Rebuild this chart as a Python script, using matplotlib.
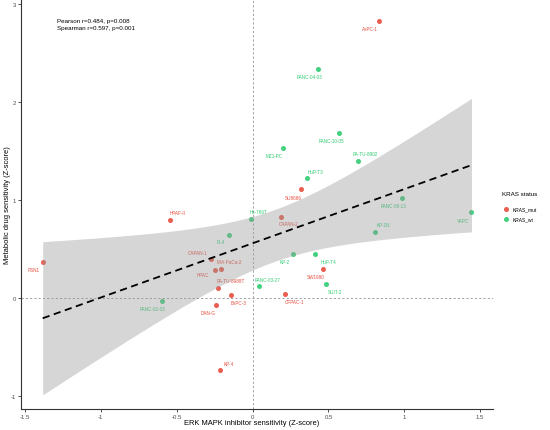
import numpy as np
import matplotlib
matplotlib.use("Agg")
import matplotlib.pyplot as plt

plt.rcParams['font.family'] = ['Liberation Sans', 'DejaVu Sans']

cell_lines = ["AsPC-1", "PANC-04-03", "PANC-10-05", "MZ1-PC", "PA-TU-8902", "HuP-T3",
              "SU8686", "PANC-08-13", "YAPC", "Hs-766T", "CAPAN-2", "HPAF-II", "KP-1N",
              "PL4", "KP-2", "HuP-T4", "PSN1", "SW1990", "CAPAN-1", "MIA-PaCa-2", "HPAC",
              "SUIT-2", "PANC-03-27", "PA-TU-8988T", "CFPAC-1", "BxPC-3", "PANC-02-03",
              "DAN-G", "KP-4"]
erk_z = [0.832, 0.430, 0.572, 0.201, 0.693, 0.361,
         0.320, 0.985, 1.443, -0.010, 0.188, -0.546, 0.810,
         -0.155, 0.267, 0.414, -1.383, 0.467, -0.271, -0.210, -0.245,
         0.485, 0.041, -0.225, 0.216, -0.144, -0.599,
         -0.239, -0.212]
metab_z = [2.83, 2.34, 1.68, 1.53, 1.40, 1.22,
           1.11, 1.02, 0.874, 0.81, 0.827, 0.80, 0.677,
           0.646, 0.449, 0.449, 0.367, 0.30, 0.395, 0.296, 0.289,
           0.143, 0.119, 0.105, 0.037, 0.034, -0.031,
           -0.071, -0.738]
kras = ["mut", "wt", "wt", "wt", "wt", "wt",
        "mut", "wt", "wt", "wt", "mut", "mut", "wt",
        "wt", "wt", "wt", "mut", "mut", "mut", "mut", "mut",
        "wt", "wt", "mut", "mut", "mut", "wt",
        "mut", "mut"]
stats_text = ["Pearson r=0.484, p=0.008", "Spearman r=0.597, p=0.001"]

# label offsets in pixels (dx, dy up-positive)
label_off = [(-9, -8), (-8, -8), (-8, -7), (-9, -8), (8, 7), (8, 7),
             (-8, -8), (-8, -8), (-8, -8), (8, 7), (8, -7), (8, 7), (8, 7),
             (-8, -7), (-8, -8), (13, -8), (-9, -8), (-8, -8), (-14, 7), (9, 7), (-13, -5),
             (9, -8), (9, 7), (12, 7), (9, -7), (8, -8), (-9, -8),
             (-8, -8), (8, 7)]

colors = {"mut": "#E74C3C", "wt": "#2ECC71"}

x = np.array(erk_z)
y = np.array(metab_z)

fig = plt.figure(figsize=(5.5, 4.31), dpi=100)
ax = fig.add_axes([21/550, 1-410/431, (493-21)/550, 410/431])

# zero reference lines
ax.axhline(0, color="#a0a0a0", lw=0.7, ls=(0, (2.2, 2.2)), zorder=1)
ax.axvline(0, color="#a0a0a0", lw=0.7, ls=(0, (2.2, 2.2)), zorder=1)

# points
for k in ["mut", "wt"]:
    m = np.array([s == k for s in kras])
    ax.scatter(x[m], y[m], s=13, color=colors[k], alpha=0.9, lw=0, zorder=2,
               label="KRAS_" + k)

# labels
for i, name in enumerate(cell_lines):
    dx, dy = label_off[i]
    ax.annotate(name, (x[i], y[i]), xytext=(dx * 0.72, dy * 0.72), textcoords="offset points",
                ha="center", va="center", fontsize=3.3, color=colors[kras[i]], zorder=2)

# robust (Huber) linear fit with 95% CI, as MASS::rlm
n = len(x)
X = np.column_stack([np.ones(n), x])
beta = np.linalg.lstsq(X, y, rcond=None)[0]
resid = y - X @ beta
kh = 1.345
for _ in range(100):
    scale = np.median(np.abs(resid)) / 0.6745
    u = resid / scale
    w = np.minimum(1.0, kh / np.maximum(np.abs(u), 1e-12))
    sw = np.sqrt(w)
    beta_new = np.linalg.lstsq(X * sw[:, None], y * sw, rcond=None)[0]
    resid_new = y - X @ beta_new
    conv = np.sqrt(np.sum((resid_new - resid) ** 2) / max(np.sum(resid_new ** 2), 1e-12))
    beta, resid = beta_new, resid_new
    if conv < 1e-6:
        break
scale = np.median(np.abs(resid)) / 0.6745
u = resid / scale
w = np.minimum(1.0, kh / np.maximum(np.abs(u), 1e-12))
XtWX_inv = np.linalg.inv((X * w[:, None]).T @ X)
xs = np.linspace(x.min(), x.max(), 200)
Xs = np.column_stack([np.ones_like(xs), xs])
yhat = Xs @ beta
se = scale * np.sqrt(np.einsum("ij,jk,ik->i", Xs, XtWX_inv, Xs))
tq = 2.0518  # t(0.975, df=27)
ax.fill_between(xs, yhat - tq * se, yhat + tq * se, color="#999999", alpha=0.4, lw=0, zorder=3)
ax.plot(xs, yhat, color="black", lw=1.3, ls=(0, (4, 2.5)), zorder=4)

ax.text(-1.289, 2.796, stats_text[0] + "\n" + stats_text[1], fontsize=4.5, va="center",
        ha="left", linespacing=1.6)

ax.set_xlim(-1.526, 1.585)
ax.set_ylim(-1.133, 3.05)
ax.set_xticks([-1.5, -1, -0.5, 0, 0.5, 1, 1.5])
ax.set_xticklabels(["-1.5", "-1", "-0.5", "0", "0.5", "1", "1.5"])
ax.set_yticks([-1, 0, 1, 2, 3])
ax.set_yticklabels(["-1", "0", "1", "2", "3"])
for sp in ["top", "right"]:
    ax.spines[sp].set_visible(False)
for sp in ["left", "bottom"]:
    ax.spines[sp].set_linewidth(0.8)
    ax.spines[sp].set_color("#333333")
ax.tick_params(labelsize=4.3, length=2, width=0.6, color="#333333", labelcolor="#4d4d4d", pad=1.5)
ax.set_xlabel("ERK MAPK inhibitor sensitivity (Z-score)", fontsize=5.4)
ax.set_ylabel("Metabolic drug sensitivity (Z-score)", fontsize=5.4)
ax.xaxis.set_label_coords((252 - 21) / 472, -(420 - 410) / 410)
ax.yaxis.set_label_coords(-(21 - 11) / 472, (410 - 205) / 410)

leg = fig.legend(loc="upper left", bbox_to_anchor=(499/550, 1-189/431), frameon=False,
                 title="KRAS status", fontsize=3.5, title_fontsize=4.5, markerscale=1.0,
                 handletextpad=0.5, handlelength=1.6, labelspacing=1.1, borderpad=0.2)
leg._legend_box.align = "left"
leg._legend_box.sep = 7

fig.savefig("out.png", dpi=100)
